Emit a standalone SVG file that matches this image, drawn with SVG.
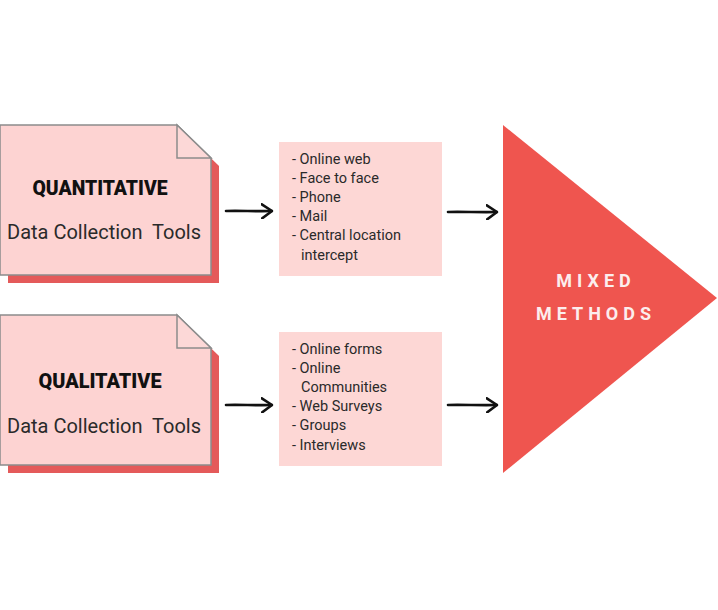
<svg xmlns="http://www.w3.org/2000/svg" width="718" height="610" viewBox="0 0 718 610">
<style>
.doc{fill:#FDD3D2;stroke:#8C8C8C;stroke-width:1.5;stroke-linejoin:miter}
.fold{fill:#FCD8D7;stroke:#8C8C8C;stroke-width:1.5}
.shadow{fill:#E45A5A}
.list{fill:#FDD7D5}
.title{font-family:Roboto,"Liberation Sans",sans-serif;font-weight:900;font-size:20px;fill:#111}
.sub{font-family:Roboto,"Liberation Sans",sans-serif;font-size:20px;fill:#2a2a2a;white-space:pre}
.item{font-family:Roboto,"Liberation Sans",sans-serif;font-size:14.5px;fill:#2a2a2a}
.mm{font-family:Roboto,"Liberation Sans",sans-serif;font-weight:bold;font-size:18px;fill:#FCEDED;letter-spacing:5px}
.arr{fill:none;stroke:#111;stroke-width:2.6;stroke-linecap:round;stroke-linejoin:round}
</style>
<defs>
<marker id="head" viewBox="0 0 12 16" refX="11" refY="8" markerWidth="12" markerHeight="16" markerUnits="userSpaceOnUse" orient="auto">
<path d="M1,1 L11,8 L1,15" fill="none" stroke="#111" stroke-width="2.6" stroke-linecap="round" stroke-linejoin="round"/>
</marker>
</defs>
<rect width="718" height="610" fill="#ffffff"/>

<g id="quantitative">
<polygon class="shadow" points="8,133 185,133 219,166 219,283 8,283"/>
<polygon class="doc" points="0,125 177,125 211,158 211,275 0,275"/>
<polygon class="fold" points="177,125 177,158 211,158"/>
<text class="title" x="100" y="195" text-anchor="middle" textLength="135" lengthAdjust="spacingAndGlyphs">QUANTITATIVE</text>
<text class="sub" x="7" y="239" textLength="194" lengthAdjust="spacingAndGlyphs" xml:space="preserve">Data Collection  Tools</text>
</g>

<g id="qualitative">
<polygon class="shadow" points="8,323 185,323 219,356 219,473 8,473"/>
<polygon class="doc" points="0,315 177,315 211,348 211,465 0,465"/>
<polygon class="fold" points="177,315 177,348 211,348"/>
<text class="title" x="100" y="388" text-anchor="middle" textLength="123" lengthAdjust="spacingAndGlyphs">QUALITATIVE</text>
<text class="sub" x="7" y="433" textLength="194" lengthAdjust="spacingAndGlyphs" xml:space="preserve">Data Collection  Tools</text>
</g>

<g id="quant-list">
<rect class="list" x="279" y="142" width="163" height="134"/>
<text class="item" x="292" y="164">- Online web</text>
<text class="item" x="292" y="183">- Face to face</text>
<text class="item" x="292" y="202">- Phone</text>
<text class="item" x="292" y="221">- Mail</text>
<text class="item" x="292" y="240">- Central location</text>
<text class="item" x="301" y="260">intercept</text>
</g>

<g id="qual-list">
<rect class="list" x="279" y="332" width="163" height="134"/>
<text class="item" x="292" y="354">- Online forms</text>
<text class="item" x="292" y="373">- Online</text>
<text class="item" x="301" y="392">Communities</text>
<text class="item" x="292" y="411">- Web Surveys</text>
<text class="item" x="292" y="430">- Groups</text>
<text class="item" x="292" y="450">- Interviews</text>
</g>

<g id="mixed-methods">
<polygon points="503,125 717,298 503,473" fill="#EF554F"/>
<text class="mm" x="596" y="287" text-anchor="middle">MIXED</text>
<text class="mm" x="596" y="320" text-anchor="middle">METHODS</text>
</g>

<g id="connectors">
<path class="arr" d="M226,211 C240,210.5 255,211.5 272,211" marker-end="url(#head)"/>
<path class="arr" d="M226,405 C240,404.5 255,405.5 272,405" marker-end="url(#head)"/>
<path class="arr" d="M448,212 C462,211.5 480,212.5 497,212" marker-end="url(#head)"/>
<path class="arr" d="M448,405 C462,404.5 480,405.5 497,405" marker-end="url(#head)"/>
</g>
</svg>
